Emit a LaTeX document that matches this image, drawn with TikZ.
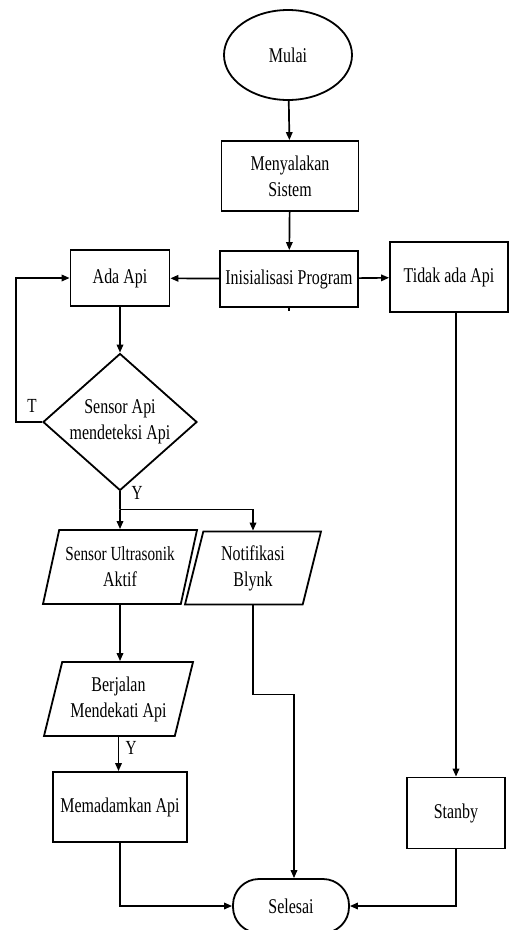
\documentclass[tikz,border=0pt]{standalone}
\usepackage{fontspec}
\setmainfont{Liberation Serif}[FakeStretch=0.76]
\usetikzlibrary{shapes.geometric,arrows.meta}
\begin{document}
\begin{tikzpicture}[x=1pt,y=-1pt,
  every node/.style={font=\fontsize{21}{26}\selectfont, align=center, inner sep=0pt},
  shp/.style={draw, line width=1.8pt},
  box/.style={shp, rectangle},
  para/.style={shp, trapezium, trapezium left angle=68, trapezium right angle=112, trapezium stretches body},
  conn/.style={line width=1.7pt},
  arr/.style={conn, -{Triangle[length=8pt,width=6.5pt]}},
  lbl/.style={font=\fontsize{20}{24}\selectfont}
]
\useasboundingbox (0,0) rectangle (510,930);

\node[shp, ellipse, minimum width=128, minimum height=90] (mulai) at (288,55) {Mulai};
\node[box, minimum width=137, minimum height=70] (nyala) at (290,176) {Menyalakan\\Sistem};
\node[box, minimum width=138, minimum height=56] (init) at (289,279) {Inisialisasi Program};
\node[box, minimum width=99, minimum height=56] (ada) at (120,278) {Ada Api};
\node[box, minimum width=118, minimum height=70] (tidak) at (449,277) {Tidak ada Api};
\node[shp, diamond, aspect=1.12, minimum width=154, minimum height=137] (sensor) at (120,422) {Sensor Api\\mendeteksi Api};
\node[para, minimum width=154, minimum height=74] (ultra) at (120,567) {\fontsize{20}{26}\selectfont Sensor Ultrasonik\\Aktif};
\node[para, minimum width=136, minimum height=73] (notif) at (253,568) {Notifikasi\\Blynk};
\node[para, minimum width=149, minimum height=74] (jalan) at (118.5,699) {Berjalan\\Mendekati Api};
\node[box, minimum width=134, minimum height=70] (padam) at (120,807) {Memadamkan Api};
\node[box, minimum width=98, minimum height=71] (stanby) at (456,813) {Stanby};
\node[shp, rectangle, rounded corners=26, minimum width=116, minimum height=54] (selesai) at (291,906) {Selesai};

\node[lbl] (tT) at (32,406) {T};
\node[lbl] (tY1) at (137,493) {Y};
\node[lbl] (tY2) at (131,748) {Y};

\draw[arr] (mulai) -- (nyala);
\draw[arr] (nyala) -- (init);
\draw[arr] (init) -- (ada);
\draw[arr] (init) -- (tidak);
\draw[conn] (init.south) -- ++(0,3);
\draw[arr] (ada) -- (sensor);
\draw[arr] (sensor.west) -- ++(-26,0) |- (ada.west);
\draw[conn] (sensor.south) -- ++(0,18) coordinate (split);
\draw[arr] (split) -- (ultra.north);
\draw[arr] (split) -| (notif.north);
\draw[arr] (ultra.south) -- (ultra.south |- jalan.north);
\draw[arr] (jalan.south) -- (jalan.south |- padam.north);
\draw[arr] (padam.south) |- (selesai.west);
\draw[arr] (notif.south) -- ++(0,89) -| ([xshift=3pt]selesai.north);
\draw[arr] (stanby.north |- tidak.south) -- (stanby.north);
\draw[arr] (stanby.south) |- (selesai.east);
\end{tikzpicture}
\end{document}
